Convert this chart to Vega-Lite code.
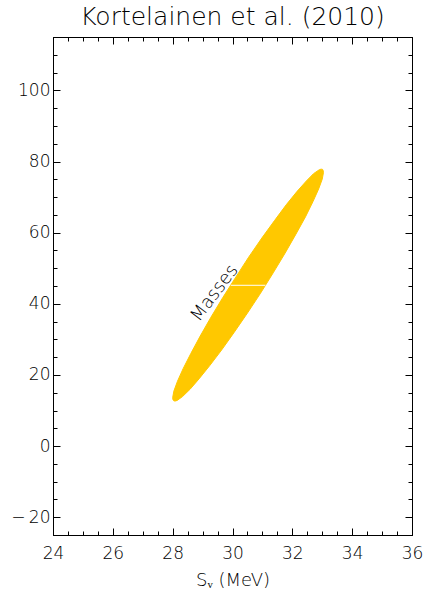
{
  "$schema": "https://vega.github.io/schema/vega-lite/v6.json",
  "autosize": {"type": "none"},
  "padding": {"left": 53, "top": 37, "right": 13, "bottom": 63},
  "width": 359,
  "height": 498,
  "background": "white",
  "title": {"text": "Kortelainen et al. (2010)", "font": "DejaVu Sans", "fontSize": 25, "fontWeight": 200, "color": "black", "anchor": "middle", "offset": 7},
  "config": {
    "view": {"stroke": "black", "strokeWidth": 1},
    "axis": {"grid": false, "domainColor": "black", "tickColor": "black", "labelColor": "black", "labelFont": "DejaVu Sans", "labelFontSize": 17, "labelFontWeight": 200, "titleFont": "DejaVu Sans", "titleFontWeight": 200, "titleColor": "black", "titleFontSize": 18, "labelFlush": false, "labelOverlap": false}
  },
  "resolve": {"axis": {"x": "independent", "y": "independent"}},
  "layer": [
    {
      "data": {"values": [
        {"i": 0, "x": 33.01, "y": 77.78}, {"i": 1, "x": 33.03, "y": 77.46}, {"i": 2, "x": 33.04, "y": 76.90}, {"i": 3, "x": 33.00, "y": 75.05},
        {"i": 4, "x": 32.88, "y": 72.30}, {"i": 5, "x": 32.69, "y": 68.73}, {"i": 6, "x": 32.44, "y": 64.45}, {"i": 7, "x": 32.12, "y": 59.58},
        {"i": 8, "x": 31.76, "y": 54.27}, {"i": 9, "x": 31.36, "y": 48.69}, {"i": 10, "x": 30.94, "y": 43.01}, {"i": 11, "x": 30.50, "y": 37.40},
        {"i": 12, "x": 30.06, "y": 32.02}, {"i": 13, "x": 29.64, "y": 27.05}, {"i": 14, "x": 29.24, "y": 22.63}, {"i": 15, "x": 28.88, "y": 18.89},
        {"i": 16, "x": 28.58, "y": 15.96}, {"i": 17, "x": 28.33, "y": 13.92}, {"i": 18, "x": 28.15, "y": 12.83}, {"i": 19, "x": 28.08, "y": 12.65},
        {"i": 20, "x": 28.04, "y": 12.72}, {"i": 21, "x": 28.01, "y": 13.04}, {"i": 22, "x": 28.00, "y": 13.60}, {"i": 23, "x": 28.04, "y": 15.45},
        {"i": 24, "x": 28.16, "y": 18.20}, {"i": 25, "x": 28.35, "y": 21.77}, {"i": 26, "x": 28.61, "y": 26.06}, {"i": 27, "x": 28.92, "y": 30.92},
        {"i": 28, "x": 29.28, "y": 36.23}, {"i": 29, "x": 29.68, "y": 41.81}, {"i": 30, "x": 30.11, "y": 47.49}, {"i": 31, "x": 30.54, "y": 53.10},
        {"i": 32, "x": 30.98, "y": 58.48}, {"i": 33, "x": 31.41, "y": 63.45}, {"i": 34, "x": 31.80, "y": 67.88}, {"i": 35, "x": 32.16, "y": 71.61},
        {"i": 36, "x": 32.47, "y": 74.54}, {"i": 37, "x": 32.71, "y": 76.59}, {"i": 38, "x": 32.90, "y": 77.68}, {"i": 39, "x": 32.96, "y": 77.85},
        {"i": 40, "x": 33.01, "y": 77.78}
      ]},
      "mark": {"type": "line", "fill": "#ffc800", "stroke": "#ffc800", "strokeWidth": 1, "interpolate": "linear"},
      "encoding": {
        "x": {"field": "x", "type": "quantitative", "scale": {"domain": [24, 36], "nice": false, "zero": false},
              "axis": {"orient": "bottom", "values": [24, 26, 28, 30, 32, 34, 36], "tickSize": -7, "labelPadding": 17, "title": "Sᵥ (MeV)", "titlePadding": 10}},
        "y": {"field": "y", "type": "quantitative", "scale": {"domain": [-25, 115], "nice": false, "zero": false},
              "axis": {"orient": "left", "values": [-20, 0, 20, 40, 60, 80, 100], "tickSize": -7, "labelPadding": 10, "title": null,
                       "labelExpr": "datum.value < 0 ? '−\u2009' + abs(datum.value) : datum.label"}},
        "order": {"field": "i", "type": "quantitative"}
      }
    },
    {
      "data": {"values": [{"x": 29.94, "x2": 31.10, "y": 45.2}]},
      "mark": {"type": "rule", "color": "white", "strokeWidth": 1},
      "encoding": {
        "x": {"field": "x", "type": "quantitative", "scale": {"domain": [24, 36], "nice": false, "zero": false},
              "axis": {"orient": "bottom", "values": [24.5, 25, 25.5, 26.5, 27, 27.5, 28.5, 29, 29.5, 30.5, 31, 31.5, 32.5, 33, 33.5, 34.5, 35, 35.5], "tickSize": -4, "labels": false, "domain": false, "title": null}},
        "x2": {"field": "x2"},
        "y": {"field": "y", "type": "quantitative", "scale": {"domain": [-25, 115], "nice": false, "zero": false},
              "axis": {"orient": "left", "values": [-25, -15, -10, -5, 5, 10, 15, 25, 30, 35, 45, 50, 55, 65, 70, 75, 85, 90, 95, 105, 110, 115], "tickSize": -4, "labels": false, "domain": false, "title": null}}
      }
    },
    {
      "data": {"values": [{"x": 29.41, "y": 42.98, "label": "Masses"}]},
      "mark": {"type": "text", "font": "DejaVu Sans", "fontSize": 18, "fontWeight": 200, "color": "black", "angle": 307, "align": "center", "baseline": "middle"},
      "encoding": {
        "x": {"field": "x", "type": "quantitative", "scale": {"domain": [24, 36], "nice": false, "zero": false},
              "axis": {"orient": "top", "values": [24, 26, 28, 30, 32, 34, 36], "tickSize": -7, "labels": false, "title": null}},
        "y": {"field": "y", "type": "quantitative", "scale": {"domain": [-25, 115], "nice": false, "zero": false},
              "axis": {"orient": "right", "values": [-20, 0, 20, 40, 60, 80, 100], "tickSize": -7, "labels": false, "title": null}},
        "text": {"field": "label"}
      }
    },
    {
      "data": {"values": [{"x": 29.94, "y": 45.2}]},
      "mark": {"type": "point", "opacity": 0},
      "encoding": {
        "x": {"field": "x", "type": "quantitative", "scale": {"domain": [24, 36], "nice": false, "zero": false},
              "axis": {"orient": "top", "values": [24.5, 25, 25.5, 26.5, 27, 27.5, 28.5, 29, 29.5, 30.5, 31, 31.5, 32.5, 33, 33.5, 34.5, 35, 35.5], "tickSize": -4, "labels": false, "domain": false, "title": null}},
        "y": {"field": "y", "type": "quantitative", "scale": {"domain": [-25, 115], "nice": false, "zero": false},
              "axis": {"orient": "right", "values": [-25, -15, -10, -5, 5, 10, 15, 25, 30, 35, 45, 50, 55, 65, 70, 75, 85, 90, 95, 105, 110, 115], "tickSize": -4, "labels": false, "domain": false, "title": null}}
      }
    }
  ]
}
